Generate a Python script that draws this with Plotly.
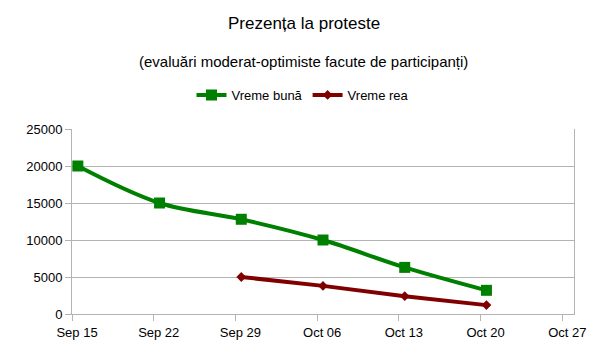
import plotly.graph_objects as go

dates_good = ["2013-09-15 12:00", "2013-09-22 12:00", "2013-09-29 12:00",
              "2013-10-06 12:00", "2013-10-13 12:00", "2013-10-20 12:00"]
vals_good = [20000, 15000, 12800, 10000, 6300, 3200]
dates_bad = ["2013-09-29 12:00", "2013-10-06 12:00", "2013-10-13 12:00", "2013-10-20 12:00"]
vals_bad = [5000, 3800, 2400, 1200]

tick_dates = ["2013-09-15", "2013-09-22", "2013-09-29", "2013-10-06",
              "2013-10-13", "2013-10-20", "2013-10-27"]
tick_labels = ["Sep 15", "Sep 22", "Sep 29", "Oct 06", "Oct 13", "Oct 20", "Oct 27"]

FONT = "Liberation Sans, Arial, sans-serif"
OFF = 8  # browser default body margin
W, H = 611 - OFF, 359 - OFF
ML, MR, MT, MB = 72 - OFF, 37, 129 - OFF, 45
PW, PH = W - ML - MR, H - MT - MB


def px_x(x):
    return (x - OFF - ML) / PW


def px_y(y):
    return (H - MB - (y - OFF)) / PH


fig = go.Figure()
fig.add_trace(go.Scatter(x=dates_good, y=vals_good, name="Vreme bună", mode="lines+markers",
                         line=dict(color="#008000", width=4, shape="spline", smoothing=1.0),
                         marker=dict(symbol="square", size=11, color="#008000")))
fig.add_trace(go.Scatter(x=dates_bad, y=vals_bad, name="Vreme rea", mode="lines+markers",
                         line=dict(color="#800000", width=4),
                         marker=dict(symbol="diamond", size=7.5, color="#800000")))

fig.update_layout(
    width=W, height=H,
    margin=dict(l=ML, r=MR, t=MT, b=MB, autoexpand=False),
    paper_bgcolor="white", plot_bgcolor="white",
    font=dict(family=FONT, size=13, color="black"),
    showlegend=True,
    legend=dict(orientation="h", x=px_x(303), xanchor="center", y=px_y(95), yanchor="middle",
                font=dict(size=13), tracegroupgap=0),
    annotations=[
        dict(text="Prezența la proteste", x=px_x(303.5), y=px_y(23), xref="paper", yref="paper",
             showarrow=False, font=dict(size=17), yanchor="middle"),
        dict(text="(evaluări moderat-optimiste facute de participanți)", x=px_x(303.5),
             y=px_y(62), xref="paper", yref="paper", showarrow=False,
             font=dict(size=15), yanchor="middle"),
    ],
)

fig.update_xaxes(type="date", range=["2013-09-15", "2013-10-28"],
                 tickvals=tick_dates, ticktext=tick_labels,
                 showgrid=False, showline=True, linecolor="#b3b3b3", linewidth=1,
                 ticks="outside", ticklen=6, tickcolor="#b3b3b3",
                 ticklabelshift=5,
                 tickfont=dict(size=13), mirror=False, zeroline=False)
fig.update_yaxes(range=[0, 25000], dtick=5000, showgrid=True, gridcolor="#b3b3b3",
                 showline=True, linecolor="#b3b3b3", mirror=True, linewidth=1,
                 ticks="outside", ticklen=6, tickcolor="#b3b3b3",
                 tickfont=dict(size=13), zeroline=False, tickformat="d")

fig.write_html("out.html")
